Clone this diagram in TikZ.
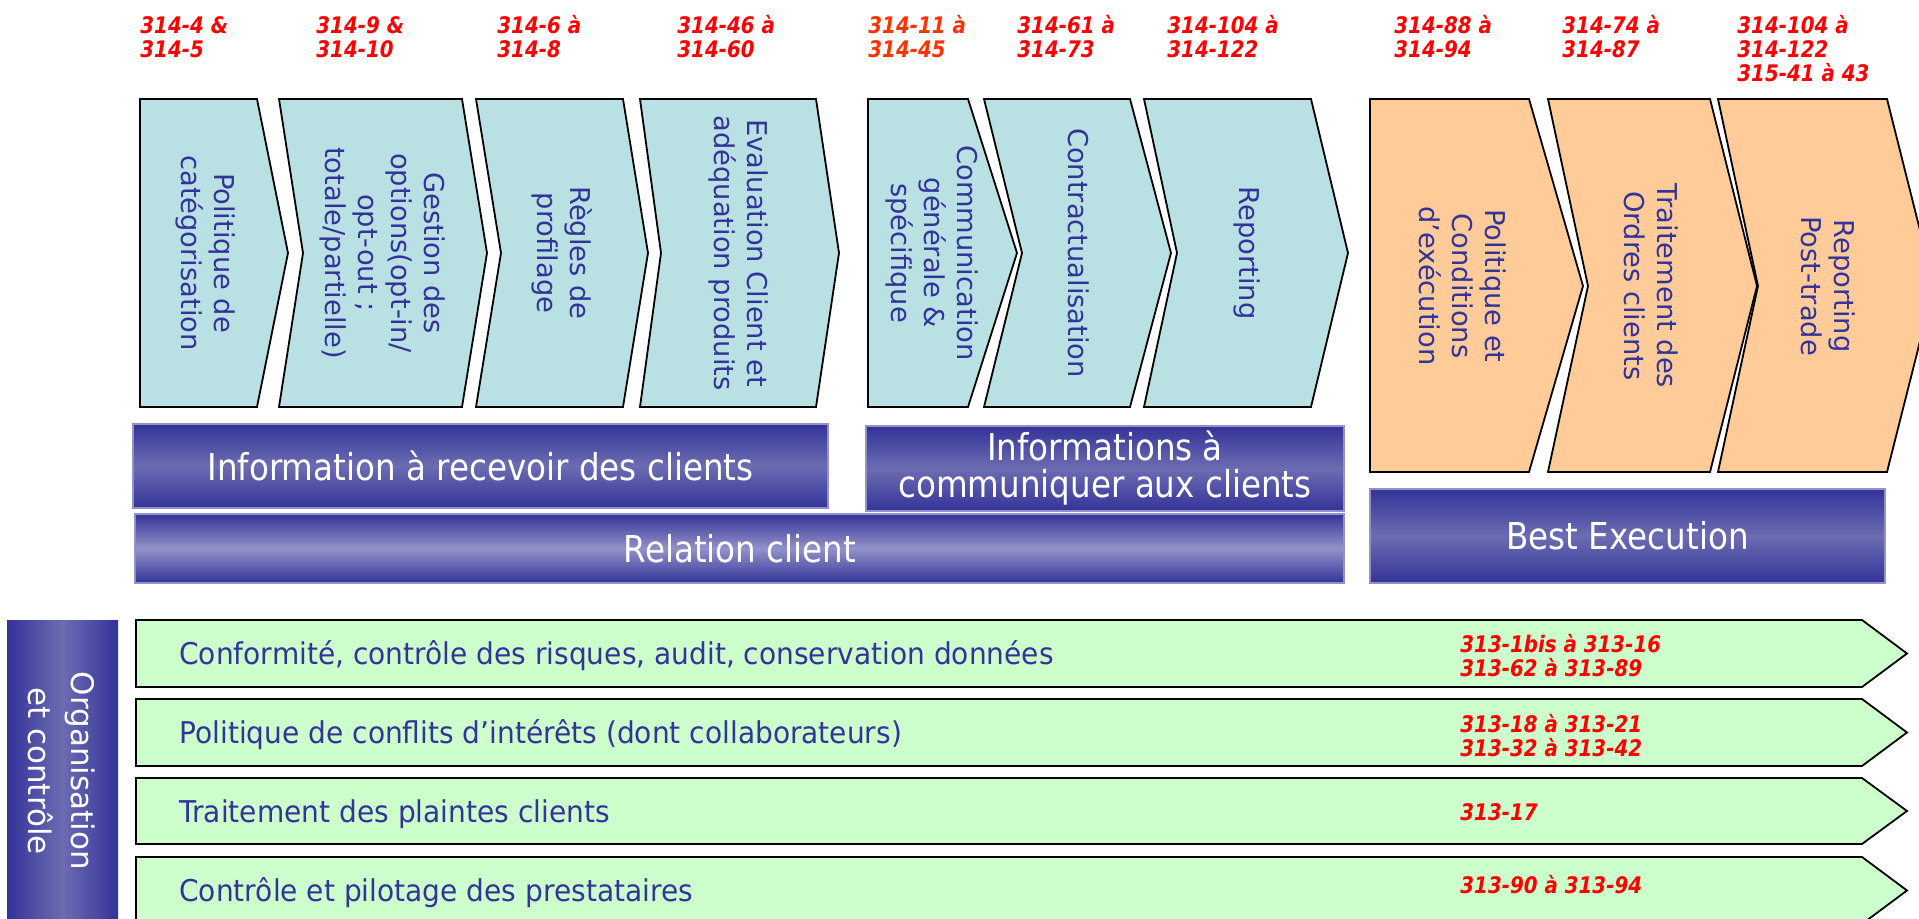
\documentclass[tikz,border=0pt]{standalone}
\usepackage{fontspec}
\setmainfont{DejaVu Sans}
\newfontfamily\narrowfont[FakeStretch=0.88]{DejaVu Sans}
\newfontfamily\rowfont[FakeStretch=0.935]{DejaVu Sans}
\newfontfamily\reffont[FakeStretch=0.87]{DejaVu Sans}

\definecolor{chevteal}{RGB}{185,224,227}
\definecolor{chevorange}{RGB}{255,204,153}
\definecolor{rowgreen}{RGB}{204,255,204}
\definecolor{navy}{RGB}{51,51,153}
\definecolor{barlight}{RGB}{108,108,178}
\definecolor{barpale}{RGB}{146,146,200}
\definecolor{refred}{RGB}{255,0,0}
\definecolor{reforange}{RGB}{255,51,0}

\newcommand{\rs}{\rule{0pt}{9.5pt}}

\tikzset{
	tealchev/.style={draw=black, line width=0.9pt, fill=chevteal, line join=miter},
	orangechev/.style={draw=black, line width=0.9pt, fill=chevorange, line join=miter},
	greenrow/.style={draw=black, line width=0.9pt, fill=rowgreen, line join=miter},
	bluebar/.style={draw=barpale, line width=0.6pt, top color=navy, bottom color=navy, middle color=barlight},
	chevtext/.style={rotate=-90, align=center, text=navy, font=\fontsize{13.65pt}{16.5pt}\selectfont},
	bartext/.style={align=center, text=white, font=\narrowfont\fontsize{18.5pt}{18.5pt}\selectfont},
	rowtext/.style={anchor=base west, inner sep=0pt, text=navy, font=\rowfont\fontsize{15pt}{18pt}\selectfont},
	reftext/.style={anchor=north west, inner sep=0pt, align=left, text=refred, font=\reffont\bfseries\itshape\fontsize{11.4pt}{12pt}\selectfont}
}

\begin{document}
\begin{tikzpicture}[x=0.5pt, y=-0.5pt]
	\useasboundingbox (0,0) rectangle (1919,919);
	\clip (0,0) rectangle (1919,919);

	% relation client, chevrons
	\draw[tealchev] (140,99) -- (257,99) -- (288,253) -- (257,407) -- (140,407) -- cycle;
	\draw[tealchev] (279,99) -- (462,99) -- (487,253) -- (462,407) -- (279,407) -- (303,253) -- cycle;
	\draw[tealchev] (476,99) -- (623,99) -- (648,253) -- (623,407) -- (476,407) -- (501,253) -- cycle;
	\draw[tealchev] (640,99) -- (816,99) -- (839,253) -- (816,407) -- (640,407) -- (661,253) -- cycle;
	\draw[tealchev] (868,99) -- (968,99) -- (1017,253) -- (968,407) -- (868,407) -- cycle;
	\draw[tealchev] (984,99) -- (1130,99) -- (1171,253) -- (1130,407) -- (984,407) -- (1022,253) -- cycle;
	\draw[tealchev] (1144,99) -- (1311,99) -- (1348,253) -- (1311,407) -- (1144,407) -- (1177,253) -- cycle;
	% best execution, chevrons
	\draw[orangechev] (1370,99) -- (1529,99) -- (1583,286) -- (1529,472) -- (1370,472) -- cycle;
	\draw[orangechev] (1548,99) -- (1710,99) -- (1757,286) -- (1710,472) -- (1548,472) -- (1588,286) -- cycle;
	\draw[orangechev] (1718,99) -- (1887,99) -- (1934,286) -- (1887,472) -- (1718,472) -- (1758,286) -- cycle;

	\node (cat) at (206,253) [chevtext] {Politique de\\catégorisation};
	\node (opt) at (383,253) [chevtext] {Gestion des\\options(opt-in/\\opt-out ;\\totale/partielle)};
	\node (prof) at (562,253) [chevtext] {Règles de\\profilage};
	\node (adeq) at (739,253) [chevtext] {Evaluation Client et\\adéquation produits};
	\node (comm) at (932,253) [chevtext] {Communication\\générale \&\\spécifique};
	\node (contr) at (1079,253) [chevtext] {Contractualisation};
	\node (repo) at (1247,253) [chevtext] {Reporting};
	\node (polex) at (1463,286) [chevtext] {Politique et\\Conditions\\d’exécution};
	\node (ordr) at (1651,286) [chevtext] {Traitement des\\Ordres clients};
	\node (post) at (1828,286) [chevtext] {Reporting\\Post-trade};

	% articles
	\node (a-cat) at (140,14) [reftext] {\rs 314-4 \&\\314-5};
	\node (a-opt) at (316,14) [reftext] {\rs 314-9 \&\\314-10};
	\node (a-prof) at (497,14) [reftext] {\rs 314-6 à\\314-8};
	\node (a-adeq) at (677,14) [reftext] {\rs 314-46 à\\314-60};
	\node (a-comm) at (868,14) [reftext, text=reforange] {\rs 314-11 à\\314-45};
	\node (a-contr) at (1017,14) [reftext] {\rs 314-61 à\\314-73};
	\node (a-repo) at (1167,14) [reftext] {\rs 314-104 à\\314-122};
	\node (a-polex) at (1394,14) [reftext] {\rs 314-88 à\\314-94};
	\node (a-ordr) at (1562,14) [reftext] {\rs 314-74 à\\314-87};
	\node (a-post) at (1737,14) [reftext] {\rs 314-104 à\\314-122\\315-41 à 43};

	% bandeaux
	\shadedraw[bluebar] (133,424) rectangle (828,508);
	\node (recv) at (480.5,466) [bartext] {Information à recevoir des clients};
	\shadedraw[bluebar] (866,426) rectangle (1344,511);
	\node (give) at (1105,468.5) [bartext] {Informations à\\communiquer aux clients};
	\shadedraw[bluebar, middle color=barpale] (135,514) rectangle (1344,583);
	\node (rel) at (740,549) [bartext] {Relation client};
	\shadedraw[bluebar] (1370,489) rectangle (1885,583);
	\node (best) at (1627.5,536) [bartext] {Best Execution};

	% organisation et controle
	\shade[left color=navy, right color=navy, middle color=barlight] (7,621) rectangle (118,925);
	\node (org) at (62,771) [rotate=-90, align=center, text=white, font=\fontsize{15.5pt}{21.5pt}\selectfont] {Organisation\\et contrôle};

	\draw[greenrow] (136,620) -- (1862,620) -- (1907,653.5) -- (1862,687) -- (136,687) -- cycle;
	\draw[greenrow] (136,699) -- (1862,699) -- (1907,732.5) -- (1862,766) -- (136,766) -- cycle;
	\draw[greenrow] (136,778) -- (1862,778) -- (1907,811) -- (1862,844) -- (136,844) -- cycle;
	\draw[greenrow] (136,857) -- (1862,857) -- (1907,890.5) -- (1862,924) -- (136,924) -- cycle;

	\node (conf) at (179,665) [rowtext] {Conformité, contrôle des risques, audit, conservation données};
	\node (confl) at (179,744) [rowtext] {Politique de conflits d’intérêts (dont collaborateurs)};
	\node (plain) at (179,822) [rowtext] {Traitement des plaintes clients};
	\node (prest) at (179,901) [rowtext] {Contrôle et pilotage des prestataires};

	\node (a-conf) at (1460,633) [reftext] {\rs 313-1bis à 313-16\\313-62 à 313-89};
	\node (a-confl) at (1460,713) [reftext] {\rs 313-18 à 313-21\\313-32 à 313-42};
	\node (a-plain) at (1460,801) [reftext] {\rs 313-17};
	\node (a-prest) at (1460,874) [reftext] {\rs 313-90 à 313-94};
\end{tikzpicture}
\end{document}
